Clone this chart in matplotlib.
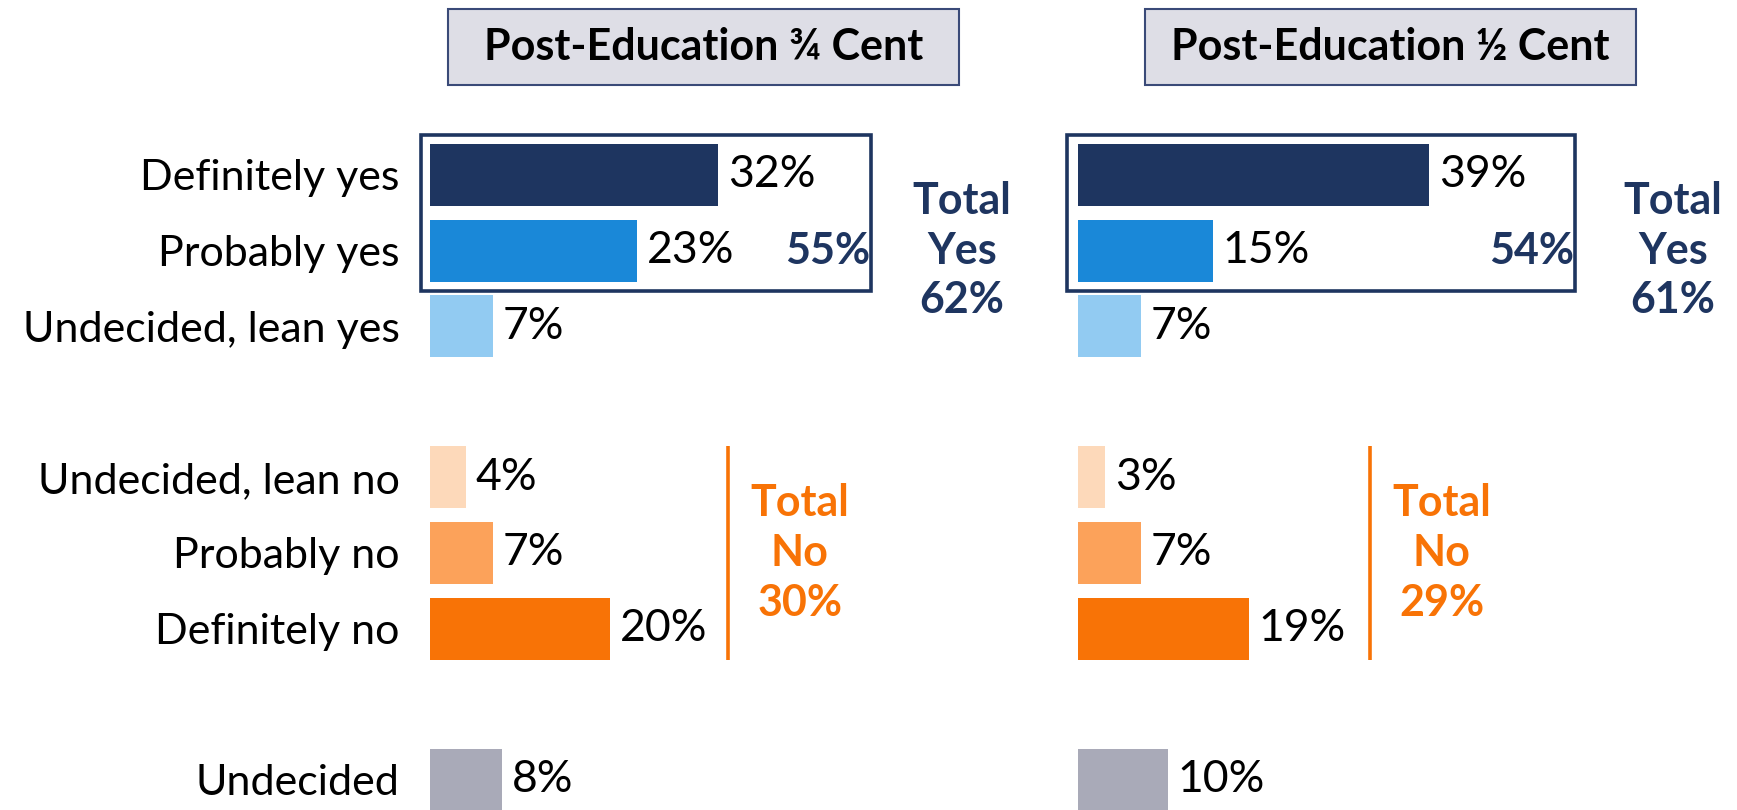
import matplotlib
matplotlib.use("Agg")
import matplotlib.pyplot as plt
from matplotlib.patches import Rectangle

plt.rcParams['font.family'] = ['Lato', 'DejaVu Sans']

categories = ["Definitely yes", "Probably yes", "Undecided, lean yes",
              "Undecided, lean no", "Probably no", "Definitely no", "Undecided"]
positions = [0, 1, 2, 4, 5, 6, 8]
values_three_quarter = [32, 23, 7, 4, 7, 20, 8]
values_half = [39, 15, 7, 3, 7, 19, 10]
panel_titles = ["Post-Education ¾ Cent", "Post-Education ½ Cent"]
subtotal_yes = [55, 54]
total_yes = [62, 61]
total_no = [30, 29]

bar_colors = ["#1E3560", "#1A88D8", "#92CBF2", "#FDD9BA", "#FCA25A", "#F87306", "#A9AAB8"]
NAVY = "#1E3560"
ORANGE = "#F87306"

W, H = 1737, 810
fig = plt.figure(figsize=(W / 100, H / 100), dpi=100)

ax_h = (810 - 99.4) / 810
axes = [fig.add_axes([430 / W, 0, 630 / W, ax_h]),
        fig.add_axes([1078 / W, 0, 630 / W, ax_h])]

# panel-specific layout (annotation positions in data units)
box_x = [(-1.0, 49.0), (-1.2, 55.2)]
sub_x = [44.2, 50.4]
tot_yes_x = [59.1, 66.1]
line_x = [33.1, 32.4]
tot_no_x = [41.1, 40.4]
header_boxes = [(448, 959), (1145, 1636)]

FS_CAT = 31
FS_VAL = 32
FS_BOLD = 31

for i, (ax, vals) in enumerate(zip(axes, [values_three_quarter, values_half])):
    bars = ax.barh(positions, vals, height=0.82, color=bar_colors)
    ax.bar_label(bars, labels=[f"{v}%" for v in vals], padding=7, fontsize=FS_VAL, color="black")
    ax.set_xlim(0, 70)
    ax.set_ylim(8.4, -1)
    for s in ax.spines.values():
        s.set_visible(False)
    ax.set_xticks([])
    if i == 0:
        ax.set_yticks(positions)
        ax.set_yticklabels(categories, fontsize=FS_CAT)
        ax.tick_params(axis='y', length=0, pad=22)
    else:
        ax.set_yticks([])

    x0, x1 = box_x[i]
    ax.add_patch(Rectangle((x0, -0.53), x1 - x0, 2.06, fill=False,
                           edgecolor=NAVY, linewidth=2.6, clip_on=False))
    ax.text(sub_x[i], 1, f"{subtotal_yes[i]}%", ha="center", va="center",
            fontsize=FS_BOLD, fontweight="bold", color=NAVY)
    ax.text(tot_yes_x[i], 1, f"Total\nYes\n{total_yes[i]}%", ha="center", va="center",
            fontsize=FS_BOLD, fontweight="bold", color=NAVY, linespacing=1.3, clip_on=False)
    ax.plot([line_x[i], line_x[i]], [3.58, 6.42], color=ORANGE, linewidth=2.6,
            clip_on=False, solid_capstyle="butt")
    ax.text(tot_no_x[i], 5, f"Total\nNo\n{total_no[i]}%", ha="center", va="center",
            fontsize=FS_BOLD, fontweight="bold", color=ORANGE, linespacing=1.3)

    hx0, hx1 = header_boxes[i]
    fig.patches.append(Rectangle((hx0 / W, 1 - 85 / H), (hx1 - hx0) / W, 76 / H,
                                 transform=fig.transFigure, facecolor="#DEDEE6",
                                 edgecolor="#3A4A78", linewidth=1.5))
    fig.text((hx0 + hx1) / 2 / W, 1 - 47 / H, panel_titles[i], ha="center", va="center",
             fontsize=FS_BOLD, fontweight="bold", color="black")

fig.savefig("out.png", dpi=100)
